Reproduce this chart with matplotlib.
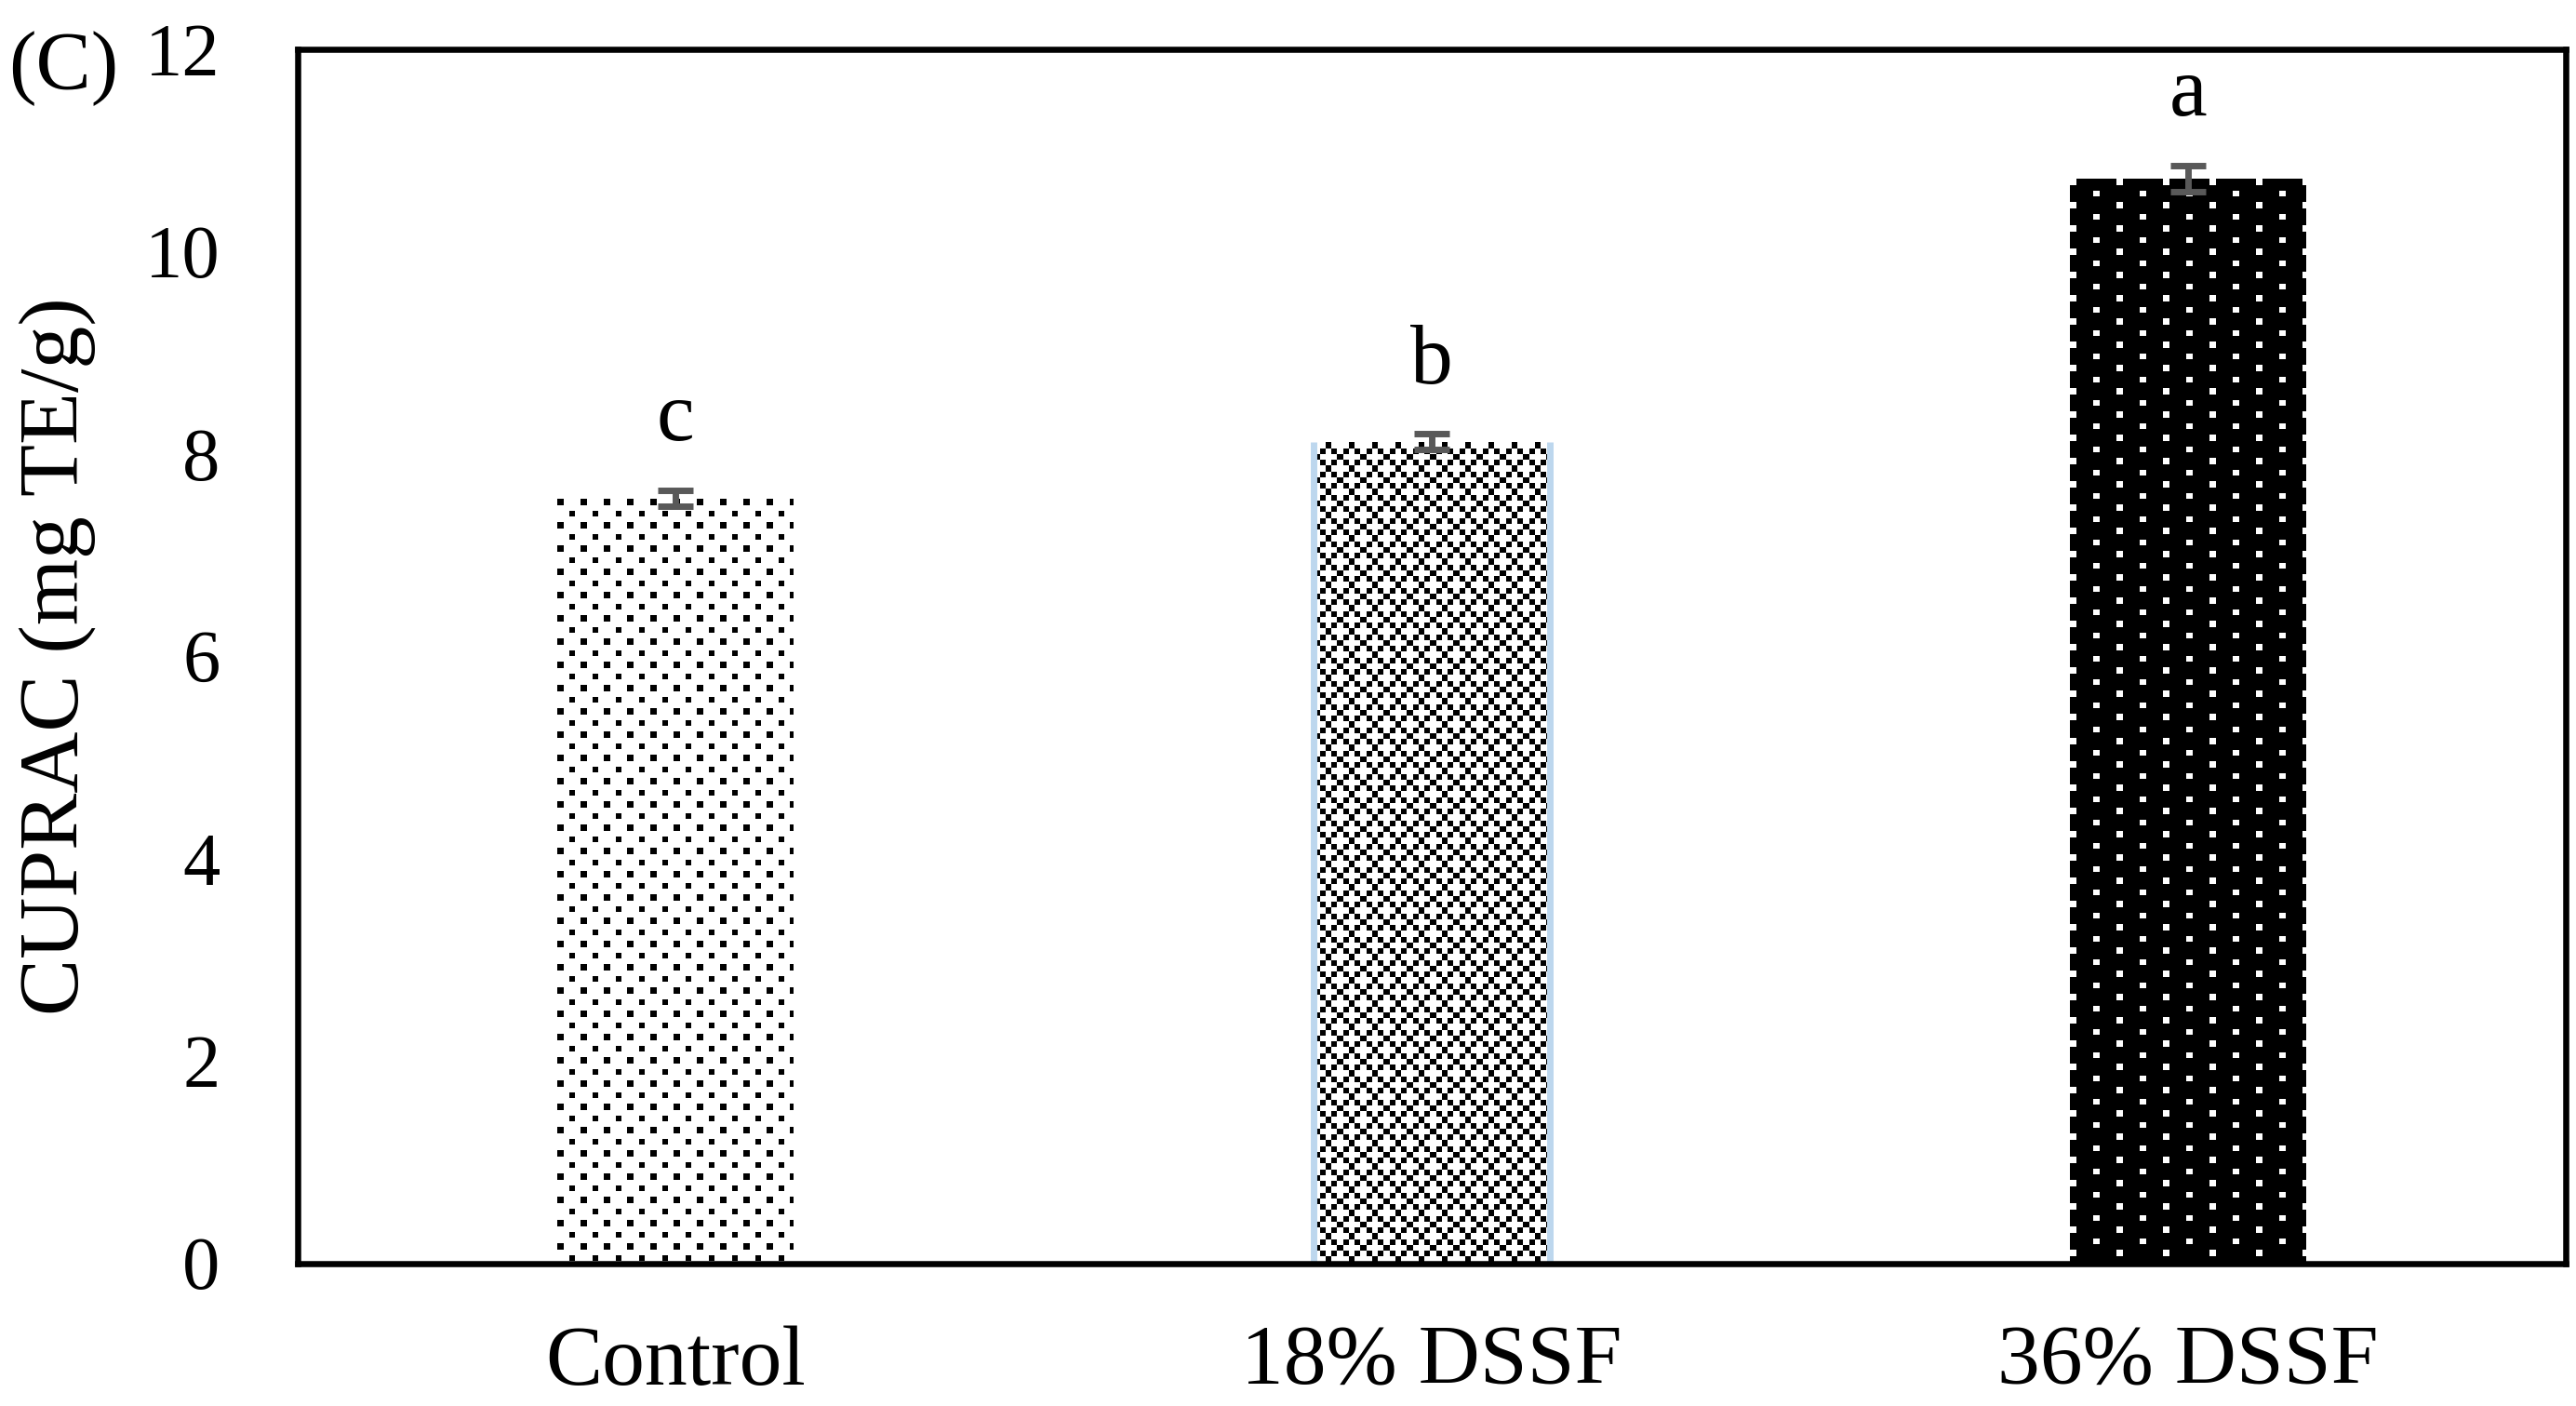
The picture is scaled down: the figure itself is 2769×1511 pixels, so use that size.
import numpy as np
import matplotlib
matplotlib.use("Agg")
import matplotlib.pyplot as plt

# --- DATOS ---
categories = ["Control", "18% DSSF", "36% DSSF"]
values = [7.56, 8.12, 10.72]
errors = [0.08, 0.08, 0.13]
letters = ["c", "b", "a"]
y_ticks = [0, 2, 4, 6, 8, 10, 12]

plt.rcParams['font.family'] = ['Liberation Serif', 'DejaVu Serif']

W, H, DPI = 2769, 1511, 100
CELL = 6.25  # tamaño de celda de la trama en pixeles


def pattern(kind, h, w):
    """Trama tipo Excel en pixeles (1 = negro)."""
    yy, xx = np.mgrid[0:h, 0:w]
    ix = np.floor(xx / CELL).astype(int)
    iy = np.floor(yy / CELL).astype(int)
    if kind == "sparse":
        dots = ((iy % 4 == 0) & (ix % 4 == 0)) | ((iy % 4 == 2) & (ix % 4 == 2))
        return dots.astype(float)
    if kind == "check":
        a = ((ix + iy) % 2 == 0)
        b = ((ix % 2 == 0) & (iy % 2 == 0) & ((ix + iy) % 4 == 0))
        return (a & ~b).astype(float)
    # negro con puntos blancos
    dots = ((iy % 4 == 0) & (ix % 8 == 0)) | ((iy % 4 == 2) & (ix % 8 == 4))
    return 1.0 - dots.astype(float)


fig = plt.figure(figsize=(W / DPI, H / DPI), dpi=DPI)
ax = fig.add_axes([320 / W, 1 - 1357.5 / H, 2438 / W, (1357.5 - 53) / H])

x = np.arange(len(categories))
bars = ax.bar(x, values, width=0.3125, color="white", edgecolor="none", zorder=1)

ax.set_xlim(-0.5, 2.5)
ax.set_ylim(0, 12)

# Tramas dentro de cada barra
kinds = ["sparse", "check", "dense"]
for bar, kind in zip(bars, kinds):
    x0, y0 = bar.get_x(), bar.get_y()
    x1, y1 = x0 + bar.get_width(), y0 + bar.get_height()
    p0 = ax.transData.transform((x0, y0))
    p1 = ax.transData.transform((x1, y1))
    wpx = int(round(p1[0] - p0[0]))
    hpx = int(round(p1[1] - p0[1]))
    img = pattern(kind, hpx, wpx)
    ax.imshow(img, cmap="gray_r", vmin=0, vmax=1, extent=(x0, x1, y0, y1),
              interpolation="nearest", aspect="auto", zorder=2)
    if kind == "check":
        # borde celeste solo a los lados
        for xe in (x0, x1):
            ax.plot([xe, xe], [y0, y1], color="#BDD7EE", lw=5, zorder=2,
                    solid_capstyle="butt")

ax.set_aspect("auto")

ax.errorbar(x, values, yerr=errors, fmt="none", ecolor="#595959",
            elinewidth=5, capsize=14, capthick=5, zorder=4)

for xi, v, e, lab in zip(x, values, errors, letters):
    ax.text(xi, v + e + 0.5, lab, ha="center", va="baseline", fontsize=66)

ax.set_xticks(x)
ax.set_xticklabels(categories, fontsize=66)
ax.set_yticks(y_ticks)
ax.set_yticklabels([str(t) for t in y_ticks], fontsize=58)
ax.tick_params(axis="y", length=0, pad=60)
ax.tick_params(axis="x", length=0, pad=48)

ax.set_ylabel("CUPRAC (mg TE/g)", fontsize=66)
ax.yaxis.set_label_coords(-0.089, 0.5)

for s in ax.spines.values():
    s.set_linewidth(4.7)
    s.set_zorder(5)

fig.text(9 / W, 1 - 74 / H, "(C)", ha="left", va="center", fontsize=64)

fig.savefig("out.png", dpi=DPI)
